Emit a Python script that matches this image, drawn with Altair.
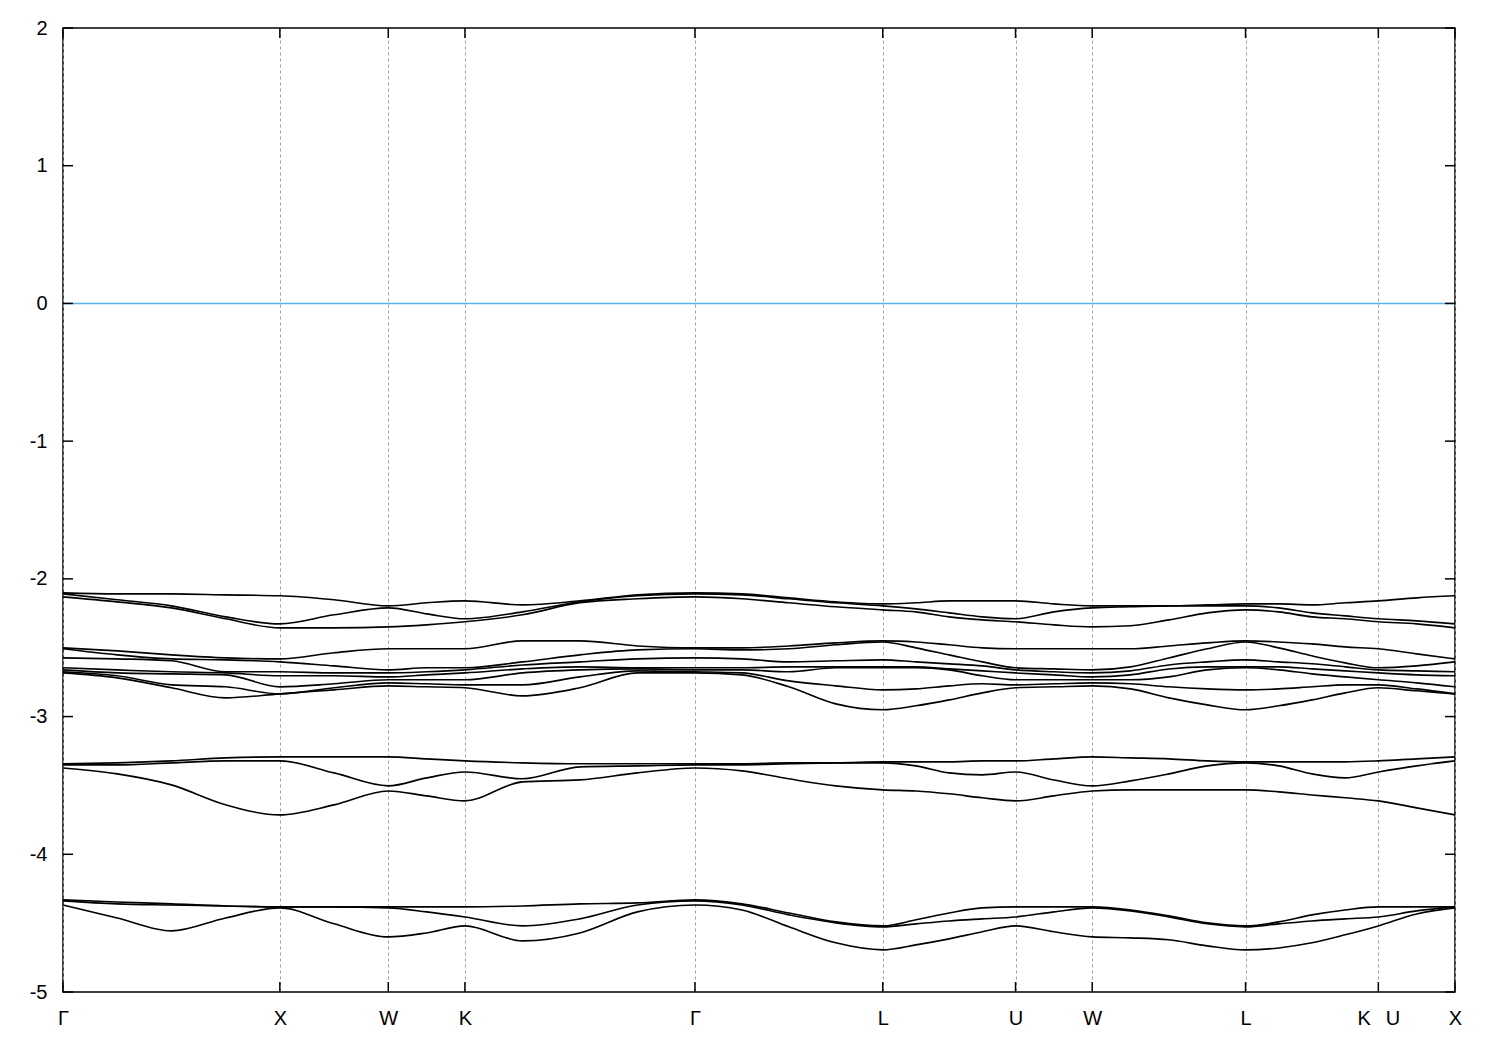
import altair as alt
import pandas as pd

# k-path coordinates (2pi/a units) of the sampled points
k_path = [0.0, 0.25, 0.5, 0.75, 1.0, 1.25, 1.5, 1.67678, 1.85355, 2.11872, 2.38388,
          2.64905, 2.91421, 3.13072, 3.34722, 3.56373, 3.78024, 3.93333, 4.08643,
          4.23952, 4.39261, 4.56939, 4.74616, 4.92294, 5.09971, 5.27649, 5.45327,
          5.60636, 5.75946, 5.91255, 6.06564, 6.24242, 6.41919]

# high-symmetry points
tick_k = [0.0, 1.0, 1.5, 1.85355, 2.91421, 3.78024, 4.39261, 4.74616, 5.45327, 6.06564, 6.41919]
tick_labels = ["Γ", "X", "W", "K", "Γ", "L", "U", "W", "L", "K\u00a0\u00a0\u2009U", "X"]

y_ticks = [-5, -4, -3, -2, -1, 0, 1, 2]

# band energies (eV)
t1 = [-2.102, -2.109, -2.109, -2.116, -2.123, -2.152, -2.196, -2.174, -2.160, -2.189, -2.160, -2.116, -2.102, -2.109, -2.138, -2.167, -2.182, -2.174, -2.160, -2.160, -2.160, -2.182, -2.196, -2.196, -2.196, -2.189, -2.182, -2.182, -2.189, -2.174, -2.160, -2.138, -2.123]
t2 = [-2.109, -2.152, -2.196, -2.276, -2.327, -2.261, -2.211, -2.254, -2.290, -2.240, -2.167, -2.123, -2.109, -2.116, -2.145, -2.174, -2.196, -2.218, -2.247, -2.276, -2.290, -2.240, -2.211, -2.203, -2.196, -2.196, -2.196, -2.211, -2.247, -2.269, -2.290, -2.305, -2.327]
t3 = [-2.131, -2.167, -2.211, -2.290, -2.356, -2.356, -2.349, -2.334, -2.312, -2.261, -2.174, -2.145, -2.131, -2.145, -2.174, -2.203, -2.225, -2.240, -2.276, -2.298, -2.312, -2.334, -2.349, -2.341, -2.298, -2.247, -2.225, -2.240, -2.276, -2.290, -2.312, -2.327, -2.356]

m1 = [-2.501, -2.523, -2.552, -2.574, -2.581, -2.537, -2.508, -2.508, -2.508, -2.450, -2.450, -2.487, -2.501, -2.501, -2.487, -2.465, -2.450, -2.458, -2.479, -2.501, -2.508, -2.508, -2.508, -2.508, -2.487, -2.465, -2.450, -2.458, -2.472, -2.494, -2.508, -2.545, -2.581]
m2 = [-2.508, -2.552, -2.581, -2.588, -2.603, -2.632, -2.661, -2.646, -2.646, -2.603, -2.552, -2.516, -2.508, -2.516, -2.508, -2.479, -2.458, -2.501, -2.552, -2.603, -2.646, -2.654, -2.661, -2.639, -2.574, -2.508, -2.458, -2.501, -2.559, -2.610, -2.646, -2.632, -2.603]
m3 = [-2.574, -2.581, -2.595, -2.675, -2.675, -2.683, -2.683, -2.675, -2.661, -2.625, -2.603, -2.581, -2.574, -2.581, -2.603, -2.595, -2.588, -2.603, -2.617, -2.632, -2.661, -2.675, -2.683, -2.668, -2.625, -2.603, -2.588, -2.603, -2.617, -2.639, -2.661, -2.668, -2.675]
m4 = [-2.646, -2.661, -2.675, -2.683, -2.704, -2.704, -2.712, -2.697, -2.683, -2.654, -2.639, -2.646, -2.646, -2.646, -2.639, -2.639, -2.639, -2.639, -2.654, -2.668, -2.683, -2.697, -2.712, -2.697, -2.654, -2.639, -2.639, -2.639, -2.654, -2.668, -2.683, -2.697, -2.704]
m5 = [-2.661, -2.683, -2.690, -2.697, -2.784, -2.762, -2.733, -2.733, -2.733, -2.683, -2.661, -2.654, -2.661, -2.661, -2.675, -2.646, -2.646, -2.646, -2.661, -2.704, -2.733, -2.733, -2.733, -2.733, -2.712, -2.661, -2.646, -2.661, -2.690, -2.712, -2.733, -2.755, -2.784]
m6 = [-2.675, -2.704, -2.770, -2.784, -2.835, -2.791, -2.755, -2.762, -2.770, -2.770, -2.712, -2.668, -2.675, -2.683, -2.741, -2.777, -2.806, -2.799, -2.777, -2.762, -2.770, -2.762, -2.755, -2.762, -2.784, -2.799, -2.806, -2.799, -2.784, -2.770, -2.770, -2.799, -2.835]
m7 = [-2.683, -2.719, -2.791, -2.864, -2.835, -2.806, -2.777, -2.784, -2.791, -2.850, -2.791, -2.683, -2.683, -2.697, -2.784, -2.908, -2.951, -2.922, -2.879, -2.828, -2.791, -2.784, -2.777, -2.799, -2.864, -2.915, -2.951, -2.922, -2.879, -2.828, -2.791, -2.813, -2.835]

l1 = [-3.343, -3.336, -3.322, -3.300, -3.293, -3.293, -3.293, -3.307, -3.322, -3.336, -3.343, -3.343, -3.343, -3.343, -3.336, -3.336, -3.329, -3.329, -3.329, -3.322, -3.322, -3.307, -3.293, -3.300, -3.307, -3.322, -3.329, -3.329, -3.329, -3.329, -3.322, -3.307, -3.293]
l2 = [-3.351, -3.351, -3.336, -3.322, -3.322, -3.409, -3.503, -3.445, -3.402, -3.452, -3.365, -3.358, -3.351, -3.351, -3.343, -3.336, -3.336, -3.358, -3.409, -3.423, -3.402, -3.460, -3.503, -3.467, -3.416, -3.358, -3.336, -3.358, -3.416, -3.445, -3.402, -3.358, -3.322]
l3 = [-3.373, -3.416, -3.496, -3.641, -3.714, -3.641, -3.540, -3.576, -3.612, -3.474, -3.460, -3.409, -3.373, -3.394, -3.452, -3.503, -3.532, -3.540, -3.561, -3.590, -3.612, -3.576, -3.540, -3.532, -3.532, -3.532, -3.532, -3.547, -3.569, -3.590, -3.612, -3.663, -3.714]

d1 = [-4.331, -4.346, -4.360, -4.375, -4.382, -4.382, -4.382, -4.382, -4.382, -4.375, -4.360, -4.353, -4.331, -4.360, -4.426, -4.491, -4.520, -4.476, -4.426, -4.389, -4.382, -4.382, -4.382, -4.404, -4.447, -4.498, -4.520, -4.491, -4.440, -4.404, -4.382, -4.382, -4.382]
d2 = [-4.338, -4.360, -4.368, -4.375, -4.382, -4.382, -4.389, -4.418, -4.455, -4.520, -4.469, -4.368, -4.338, -4.368, -4.440, -4.498, -4.527, -4.505, -4.484, -4.469, -4.455, -4.418, -4.389, -4.411, -4.455, -4.505, -4.527, -4.505, -4.484, -4.469, -4.455, -4.411, -4.382]
d3 = [-4.368, -4.462, -4.556, -4.462, -4.389, -4.505, -4.600, -4.571, -4.520, -4.629, -4.571, -4.418, -4.368, -4.404, -4.527, -4.643, -4.694, -4.658, -4.614, -4.563, -4.520, -4.563, -4.600, -4.607, -4.621, -4.665, -4.694, -4.680, -4.643, -4.585, -4.520, -4.433, -4.389]

bands = {"t1": t1, "t2": t2, "t3": t3, "m1": m1, "m2": m2, "m3": m3, "m4": m4,
         "m5": m5, "m6": m6, "m7": m7, "l1": l1, "l2": l2, "l3": l3,
         "d1": d1, "d2": d2, "d3": d3}

rows = []
for name, vals in bands.items():
    for k, e in zip(k_path, vals):
        rows.append({"band": name, "k": k, "E": e})
df = pd.DataFrame(rows)

W, H = 1392, 964
x_scale = alt.Scale(domain=[tick_k[0], tick_k[-1]], nice=False, zero=False)
y_scale = alt.Scale(domain=[y_ticks[0], y_ticks[-1]], nice=False, zero=False)

label_expr = ("[" + ",".join("'" + l + "'" for l in tick_labels) + "][indexof(["
              + ",".join(repr(v) for v in tick_k) + "], datum.value)]")

x_axis = alt.Axis(values=tick_k, labelExpr=label_expr, title=None, ticks=False,
                  domain=False, grid=True, gridDash=[3, 3], gridColor="#a0a0a0",
                  gridWidth=1, labelFontSize=20, labelColor="black",
                  labelFont={"expr": "datum.label == 'Γ' ? 'Liberation Serif' : 'Liberation Sans'"},
                  labelPadding=16, labelFlush=False, labelOverlap=False)
y_axis = alt.Axis(values=y_ticks, labelExpr="'' + datum.value", title=None, ticks=False,
                  domain=False, grid=False, labelFontSize=20, labelColor="black",
                  labelFont="Liberation Sans", labelPadding=16)

X = alt.X("k:Q", scale=x_scale, axis=x_axis)
Y = alt.Y("E:Q", scale=y_scale, axis=y_axis)

lines = alt.Chart(df).mark_line(color="black", strokeWidth=1.6, interpolate="monotone").encode(
    x=X, y=Y, detail="band:N",
)

zero_df = pd.DataFrame({"E": [0]})
zero_line = alt.Chart(zero_df).mark_rule(color="#56b4e9", strokeWidth=1.5).encode(y=Y)

yt_df = pd.DataFrame({"E": y_ticks})
xt_df = pd.DataFrame({"k": tick_k})
tick_style = dict(color="black", strokeWidth=1.5)
yt_left = alt.Chart(yt_df).mark_rule(**tick_style).encode(
    y=Y, x=alt.value(0), x2=alt.value(10))
yt_right = alt.Chart(yt_df).mark_rule(**tick_style).encode(
    y=Y, x=alt.value(W - 10), x2=alt.value(W))
xt_bottom = alt.Chart(xt_df).mark_rule(**tick_style).encode(
    x=X, y=alt.value(H - 10), y2=alt.value(H))
xt_top = alt.Chart(xt_df).mark_rule(**tick_style).encode(
    x=X, y=alt.value(0), y2=alt.value(10))

chart = alt.layer(lines, zero_line, yt_left, yt_right, xt_bottom, xt_top).properties(
    width=W, height=H,
    padding={"left": 55, "top": 20, "right": 25, "bottom": 40},
    autosize=alt.AutoSizeParams(type="none"),
    background="white",
).configure_view(stroke="black", strokeWidth=1.5)

chart.save("out.html", embed_options={"renderer": "svg", "actions": False})
